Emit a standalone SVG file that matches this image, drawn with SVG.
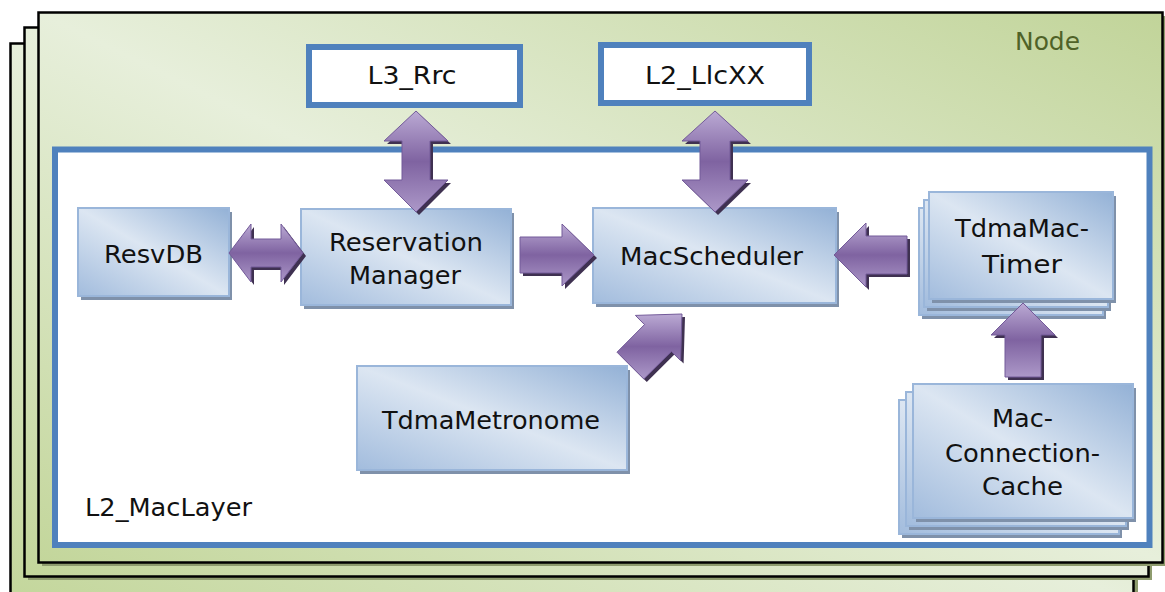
<svg xmlns="http://www.w3.org/2000/svg" xmlns:xlink="http://www.w3.org/1999/xlink" width="1165" height="592" viewBox="0 0 1165 592">
<style>
.page{stroke:#000;stroke-width:2.5;fill:url(#pageg)}
.pshadow{fill:#8E9C6E}
.box{fill:url(#boxg);stroke:#9AB6DA;stroke-width:2}
.bshadow{fill:#7F91AA}
.frame{fill:#fff;stroke:#4F81BD;stroke-width:6}
.t{font-family:"DejaVu Sans",Verdana,sans-serif;font-size:24px;fill:#111;text-anchor:middle}
.af{fill:url(#arrg);stroke:#735A99;stroke-width:1}
.ash{fill:#3F3151}
</style>
<defs>
<linearGradient id="pageg" x1="0" y1="1" x2="1" y2="0">
<stop offset="0" stop-color="#C3D69B"/>
<stop offset="0.5" stop-color="#E7EFDB"/>
<stop offset="1" stop-color="#C1D499"/>
</linearGradient>
<linearGradient id="boxg" x1="0" y1="1" x2="1" y2="0">
<stop offset="0" stop-color="#A2BCDD"/>
<stop offset="0.5" stop-color="#DCE6F2"/>
<stop offset="1" stop-color="#93B1D6"/>
</linearGradient>
<linearGradient id="arrg" x1="0" y1="0" x2="0" y2="1">
<stop offset="0" stop-color="#BBAAD4"/>
<stop offset="0.5" stop-color="#7F63A1"/>
<stop offset="1" stop-color="#AC98C8"/>
</linearGradient>
<path id="a1" d="M416,111 L448,141 L430,141 L430,180 L448,180 L416,212 L384,180 L402,180 L402,141 L384,141 Z"/>
<path id="a2" d="M715,111 L748,141 L730,141 L730,180 L748,180 L715,212 L682,180 L700,180 L700,141 L682,141 Z"/>
<path id="a3" d="M229,253 L251,224 L251,239 L281,239 L281,224 L303,253 L281,282 L281,267 L251,267 L251,282 Z"/>
<path id="a4" d="M520,237 L562,237 L562,224 L594,255 L562,286 L562,273 L520,273 Z"/>
<path id="a5" d="M907,236 L866,236 L866,223 L834,255 L866,287 L866,274 L907,274 Z"/>
<path id="a6" d="M1023,303 L1055,335 L1041,335 L1041,377 L1005,377 L1005,335 L991,335 Z"/>
<path id="a7" d="M617,352.2 L644.5,324.6 L635.4,315.4 L682,314 L680.6,360.6 L671.4,351.5 L643.8,379 Z"/>
</defs>

<g id="node">
<rect class="pshadow" x="14" y="47" width="1124" height="560"/>
<rect class="page" x="10.5" y="43.5" width="1123" height="560"/>
<rect class="pshadow" x="28" y="31" width="1124" height="549"/>
<rect class="page" x="24.5" y="27.5" width="1124" height="549"/>
<rect class="pshadow" x="42" y="16" width="1124" height="550"/>
<rect class="page" x="38.5" y="12.5" width="1124" height="550"/>
<text class="t" x="1047.5" y="50" textLength="65" lengthAdjust="spacingAndGlyphs" style="fill:#4F6228">Node</text>
</g>

<g id="l3rrc">
<rect class="frame" x="309" y="47" width="211" height="58"/>
<text class="t" x="412" y="84" textLength="89" lengthAdjust="spacingAndGlyphs">L3_Rrc</text>
</g>

<g id="l2llcxx">
<rect class="frame" x="601" y="45" width="208" height="58"/>
<text class="t" x="705" y="84" textLength="120" lengthAdjust="spacingAndGlyphs">L2_LlcXX</text>
</g>

<g id="l2maclayer">
<rect class="frame" x="55" y="149.5" width="1094.5" height="395.5"/>
<text class="t" x="85" y="516" textLength="167" lengthAdjust="spacingAndGlyphs" style="text-anchor:start">L2_MacLayer</text>
</g>

<g id="resvdb">
<rect class="bshadow" x="81" y="212" width="151" height="88"/>
<rect class="box" x="78" y="208" width="151" height="88"/>
<text class="t" x="153.5" y="263" textLength="99" lengthAdjust="spacingAndGlyphs">ResvDB</text>
</g>

<g id="reservationmanager">
<rect class="bshadow" x="304" y="213" width="210" height="96"/>
<rect class="box" x="301" y="209" width="210" height="96"/>
<text class="t" x="406" y="251" textLength="154" lengthAdjust="spacingAndGlyphs">Reservation</text>
<text class="t" x="405" y="284" textLength="112" lengthAdjust="spacingAndGlyphs">Manager</text>
</g>

<g id="macscheduler">
<rect class="bshadow" x="596" y="212" width="243" height="95"/>
<rect class="box" x="593" y="208" width="243" height="95"/>
<text class="t" x="711.5" y="265" textLength="183" lengthAdjust="spacingAndGlyphs">MacScheduler</text>
</g>

<g id="tdmametronome">
<rect class="bshadow" x="360" y="370" width="270" height="104"/>
<rect class="box" x="357" y="366" width="270" height="104"/>
<text class="t" x="491" y="429" textLength="218" lengthAdjust="spacingAndGlyphs">TdmaMetronome</text>
</g>

<g id="tdmamactimer">
<rect class="bshadow" x="922" y="212" width="184" height="107"/>
<rect class="box" x="919" y="208" width="184" height="107"/>
<rect class="bshadow" x="927" y="204" width="184" height="107"/>
<rect class="box" x="924" y="200" width="184" height="107"/>
<rect class="bshadow" x="932" y="196" width="184" height="107"/>
<rect class="box" x="929" y="192" width="184" height="107"/>
<text class="t" x="1022" y="237" textLength="134" lengthAdjust="spacingAndGlyphs">TdmaMac-</text>
<text class="t" x="1022" y="273" textLength="80" lengthAdjust="spacingAndGlyphs">Timer</text>
</g>

<g id="macconnectioncache">
<rect class="bshadow" x="902" y="404" width="220" height="134"/>
<rect class="box" x="899" y="400" width="220" height="134"/>
<rect class="bshadow" x="909" y="396" width="220" height="134"/>
<rect class="box" x="906" y="392" width="220" height="134"/>
<rect class="bshadow" x="916" y="388" width="220" height="134"/>
<rect class="box" x="913" y="384" width="220" height="134"/>
<text class="t" x="1022.5" y="427" textLength="61" lengthAdjust="spacingAndGlyphs">Mac-</text>
<text class="t" x="1022.5" y="462" textLength="155" lengthAdjust="spacingAndGlyphs">Connection-</text>
<text class="t" x="1022.5" y="495" textLength="81" lengthAdjust="spacingAndGlyphs">Cache</text>
</g>

<g id="connectors">
<use xlink:href="#a1" class="ash" transform="translate(3,3)"/>
<use xlink:href="#a1" class="af"/>
<use xlink:href="#a2" class="ash" transform="translate(3,3)"/>
<use xlink:href="#a2" class="af"/>
<use xlink:href="#a3" class="ash" transform="translate(3,3)"/>
<use xlink:href="#a3" class="af"/>
<use xlink:href="#a4" class="ash" transform="translate(3,3)"/>
<use xlink:href="#a4" class="af"/>
<use xlink:href="#a5" class="ash" transform="translate(3,3)"/>
<use xlink:href="#a5" class="af"/>
<use xlink:href="#a6" class="ash" transform="translate(3,3)"/>
<use xlink:href="#a6" class="af"/>
<use xlink:href="#a7" class="ash" transform="translate(3,3)"/>
<use xlink:href="#a7" class="af"/>
</g>
</svg>
